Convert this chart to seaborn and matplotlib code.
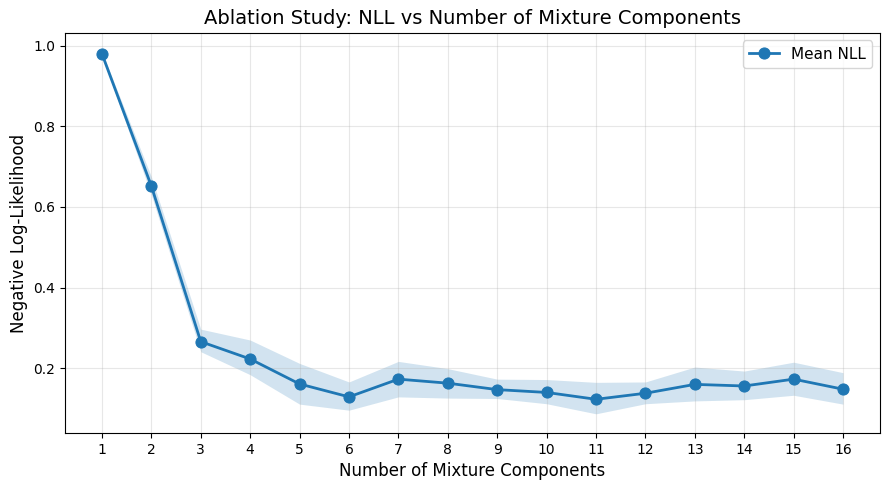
import pandas as pd
import matplotlib
matplotlib.use('Agg')
import matplotlib.pyplot as plt
import seaborn as sns
import numpy as np

# %% Data

nComponents = [1, 2, 3, 4, 5, 6, 7, 8, 9, 10, 11, 12, 13, 14, 15, 16]
meanNLL = [0.980, 0.652, 0.266, 0.223, 0.161, 0.129, 0.173, 0.163,
           0.147, 0.140, 0.123, 0.138, 0.160, 0.156, 0.173, 0.148]
upperNLL = [0.985, 0.675, 0.297, 0.270, 0.212, 0.166, 0.217, 0.199,
            0.173, 0.172, 0.165, 0.166, 0.203, 0.193, 0.215, 0.189]
lowerNLL = [0.975, 0.630, 0.241, 0.184, 0.111, 0.096, 0.129, 0.126,
            0.125, 0.112, 0.087, 0.112, 0.119, 0.122, 0.133, 0.111]

df = pd.DataFrame({'k': nComponents, 'nll': meanNLL,
                   'lo': lowerNLL, 'hi': upperNLL})

# %% Plot

plt.rcParams['font.family'] = ['DejaVu Sans']

fig, ax = plt.subplots(figsize=(8.89, 4.9), dpi=100)
plt.subplots_adjust(left=0.073, right=0.990, top=0.933, bottom=0.116)

#Shaded band for the spread
ax.fill_between(df['k'], df['lo'], df['hi'], color='#1f77b4', alpha=0.2, lw=0)

#Mean line with markers
sns.lineplot(data=df, x='k', y='nll', marker='o', markersize=8, color='#1f77b4',
             markeredgecolor='#1f77b4', lw=2, label='Mean NLL', ax=ax)

ax.set_xticks(nComponents)
ax.set_xlim(0.25, 16.75)
ax.set_ylim(0.039, 1.032)
ax.set_yticks([0.2, 0.4, 0.6, 0.8, 1.0])
ax.grid(True, alpha=0.3)

ax.set_title('Ablation Study: NLL vs Number of Mixture Components', fontsize=14)
ax.set_xlabel('Number of Mixture Components', fontsize=12)
ax.set_ylabel('Negative Log-Likelihood', fontsize=12)
ax.legend(loc='upper right', fontsize=11)

plt.savefig('out.png', dpi=100)
